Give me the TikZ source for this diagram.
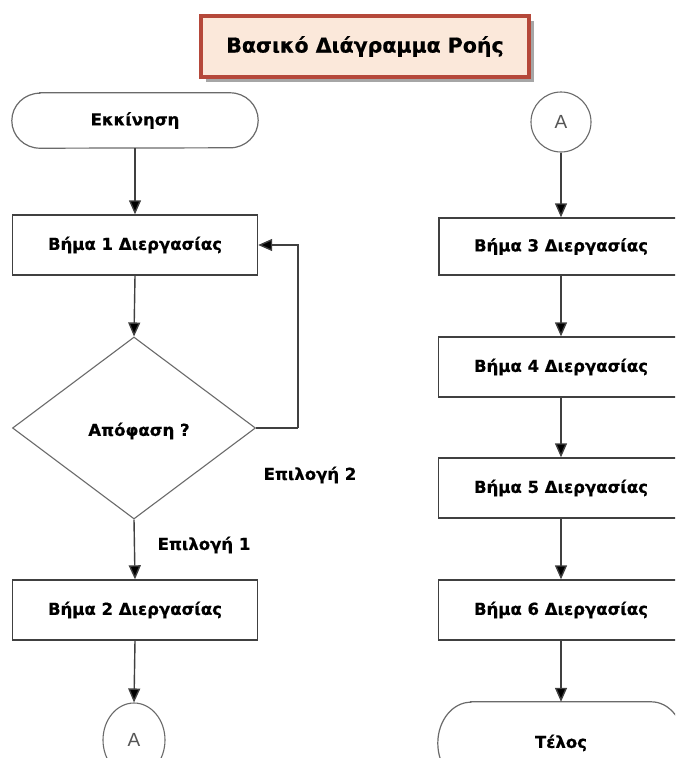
\documentclass[tikz,border=0pt]{standalone}
\usepackage{fontspec}
\setmainfont{DejaVu Sans}[BoldFeatures={FakeBold=0.6}]
\newfontfamily\connfont{Liberation Sans}
\usetikzlibrary{arrows.meta,shapes.geometric,shadows}

\definecolor{linegray}{HTML}{404040}
\definecolor{termgray}{HTML}{6A6A6A}
\definecolor{conntext}{HTML}{555555}
\definecolor{titlefill}{HTML}{FBE8DA}
\definecolor{titleedge}{HTML}{B5483A}

\tikzset{
  labelfont/.style={font=\bfseries\fontsize{16.5}{18}\selectfont},
  flow/.style={draw=linegray, line width=1.4pt,
    -{Triangle[length=14pt,width=12pt,fill=black]}},
  loopline/.style={draw=linegray, line width=1.4pt},
  stepbox/.style={rectangle, draw=linegray, line width=1.4pt, fill=white,
    minimum width=245pt, minimum height=60pt, inner sep=0pt, labelfont},
  termbox/.style={rectangle, draw=none, inner sep=0pt, labelfont},
  termline/.style={draw=termgray, line width=1.2pt},
  decide/.style={diamond, draw=termgray, line width=1.1pt, aspect=1.33,
    minimum width=243pt, minimum height=182pt, inner sep=0pt},
  conn/.style={draw=termgray, line width=1.1pt, inner sep=0pt,
    text=conntext, font=\connfont\fontsize{19}{21}\selectfont},
  choice/.style={inner sep=0pt, labelfont},
}

\begin{document}
\begin{tikzpicture}[x=1pt, y=-1pt]
  \useasboundingbox (0,0) rectangle (675,758);
  \clip (0,0) rectangle (675,758);
  \fill[white] (0,0) rectangle (675,758);

  % title banner
  \node[rectangle, draw=titleedge, line width=4pt, fill=titlefill,
        minimum width=328pt, minimum height=61pt, inner sep=0pt,
        drop shadow={shadow xshift=5pt, shadow yshift=-5pt, opacity=0.35, fill=black},
        font=\bfseries\fontsize{20.5}{22}\selectfont]
    (title) at (365,46.5) {Βασικό Διάγραμμα Ροής};

  % left column
  \node[termbox, minimum width=246pt, minimum height=55pt] (start) at (135,120.5) {Εκκίνηση};
  \draw[termline]
    ([xshift=28pt]start.north west) -- ([xshift=-28pt]start.north east)
    arc[start angle=90, end angle=-90, x radius=28pt, y radius=27.5pt]
    -- ([xshift=28pt]start.south west)
    arc[start angle=270, end angle=90, x radius=28pt, y radius=27.5pt] -- cycle;

  \node[stepbox] (s1) at (135,245) {Βήμα 1 Διεργασίας};
  \node[decide] (dec) at (134,428) {};
  \node[labelfont] (declabel) at (139,431) {Απόφαση ?};
  \node[stepbox] (s2) at (135,610) {Βήμα 2 Διεργασίας};
  \node[conn, ellipse, minimum width=62pt, minimum height=74pt] (a1) at (134,740) {A};

  \node[choice] (opt2) at (310,475) {Επιλογή 2};
  \node[choice] (opt1) at (204,545) {Επιλογή 1};

  \coordinate (loopturn) at (298,428);

  \draw[flow] (start.south) -- (s1.north);
  \draw[flow] (s1.south) -- (dec.north);
  \draw[flow] (dec.south) -- (s2.north);
  \draw[flow] (s2.south) -- (a1.north);
  \draw[loopline] (dec.east) -- (loopturn);
  \draw[flow] (loopturn) |- (s1.east);

  % right column
  \node[conn, circle, minimum size=60pt] (a2) at (561,122) {A};
  \node[stepbox, minimum width=244pt, minimum height=57pt] (s3) at (561,246.5) {Βήμα 3 Διεργασίας};
  \node[stepbox] (s4) at (561,367) {Βήμα 4 Διεργασίας};
  \node[stepbox] (s5) at (561,488) {Βήμα 5 Διεργασίας};
  \node[stepbox] (s6) at (561,610) {Βήμα 6 Διεργασίας};

  \node[termbox, minimum width=246pt, minimum height=82pt] (end) at (561,743) {Τέλος};
  \draw[termline]
    ([xshift=33pt]end.north west) -- ([xshift=-33pt]end.north east)
    arc[start angle=90, end angle=-90, x radius=33pt, y radius=41pt]
    -- ([xshift=33pt]end.south west)
    arc[start angle=270, end angle=90, x radius=33pt, y radius=41pt] -- cycle;

  \draw[flow] (a2.south) -- (s3.north);
  \draw[flow] (s3.south) -- (s4.north);
  \draw[flow] (s4.south) -- (s5.north);
  \draw[flow] (s5.south) -- (s6.north);
  \draw[flow] (s6.south) -- (end.north);
\end{tikzpicture}
\end{document}
